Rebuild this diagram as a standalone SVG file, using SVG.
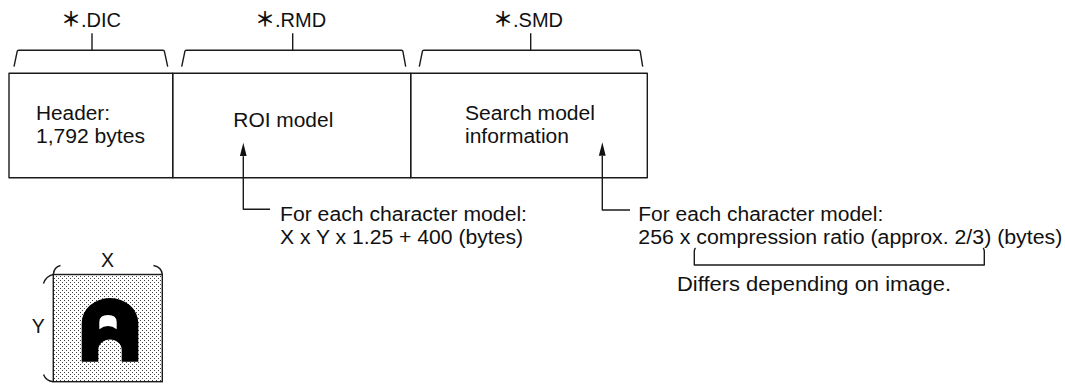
<svg xmlns="http://www.w3.org/2000/svg" width="1065" height="385" viewBox="0 0 1065 385">
  <style>
    .ln { fill: none; stroke: #1a1a1a; stroke-width: 1.4; stroke-linejoin: round; stroke-linecap: butt; }
    .tx { font-family: "Liberation Sans", Arial, "Noto Sans CJK JP", sans-serif; font-size: 19.5px; fill: #111; }
    .hd { font-family: "Liberation Sans", Arial, "Noto Sans CJK JP", sans-serif; font-size: 20px; fill: #111; }
    .ast { font-weight: bold; }
  </style>
  <defs>
    <marker id="arrow" markerUnits="userSpaceOnUse" markerWidth="14" markerHeight="8" refX="0" refY="4" orient="auto">
      <path d="M0,0.6 L13.5,4 L0,7.4 Z" fill="#111"/>
    </marker>
    <!-- stippled screen-tone fill for the character cell -->
    <pattern id="stipple" patternUnits="userSpaceOnUse" width="4" height="4">
      <rect width="4" height="4" fill="#fff"/>
      <rect x="0" y="0" width="1" height="1" fill="#444"/>
      <rect x="2" y="2" width="1" height="1" fill="#444"/>
    </pattern>
  </defs>

  <!-- file-name labels with their braces -->
  <g id="file-dic">
    <text class="hd" x="61" y="27"><tspan class="ast">＊</tspan>.DIC</text>
    <path class="ln" d="M92,33.3 V50.3 M14,66.7 L17.2,51.3 Q17.5,50.3 18.6,50.3 H163 Q164.1,50.3 164.4,51.3 L167.7,66.7"/>
  </g>
  <g id="file-rmd">
    <text class="hd" x="255" y="27"><tspan class="ast">＊</tspan>.RMD</text>
    <path class="ln" d="M292.7,33.3 V50.3 M181.7,66.7 L184.9,51.3 Q185.2,50.3 186.3,50.3 H401.5 Q402.6,50.3 402.9,51.3 L405.7,66.7"/>
  </g>
  <g id="file-smd">
    <text class="hd" x="493" y="27"><tspan class="ast">＊</tspan>.SMD</text>
    <path class="ln" d="M530.7,33.3 V50.3 M419.3,66.7 L422.4,51.3 Q422.7,50.3 423.8,50.3 H638.8 Q639.9,50.3 640.2,51.3 L642.7,66.7"/>
  </g>

  <!-- record layout: three consecutive sections -->
  <g id="cell-header">
    <rect class="ln" x="9" y="73.3" width="163.7" height="104.4"/>
    <text class="tx" x="36" y="119.5" textLength="74" lengthAdjust="spacingAndGlyphs">Header:</text>
    <text class="tx" x="36" y="143.3" textLength="109" lengthAdjust="spacingAndGlyphs">1,792 bytes</text>
  </g>
  <g id="cell-roi">
    <rect class="ln" x="172.7" y="73.3" width="238" height="104.4"/>
    <text class="tx" x="233.3" y="126.7" textLength="100" lengthAdjust="spacingAndGlyphs">ROI model</text>
  </g>
  <g id="cell-search">
    <rect class="ln" x="410.7" y="73.3" width="236.6" height="104.4"/>
    <text class="tx" x="465" y="120" textLength="130" lengthAdjust="spacingAndGlyphs">Search model</text>
    <text class="tx" x="465" y="143.3" textLength="104" lengthAdjust="spacingAndGlyphs">information</text>
  </g>

  <!-- size notes -->
  <g id="note-rmd">
    <text class="tx" x="280" y="221" textLength="247" lengthAdjust="spacingAndGlyphs">For each character model:</text>
    <text class="tx" x="280" y="243.5" textLength="243" lengthAdjust="spacingAndGlyphs">X x Y x 1.25 + 400 (bytes)</text>
  </g>
  <g id="note-smd">
    <text class="tx" x="638.3" y="221" textLength="245" lengthAdjust="spacingAndGlyphs">For each character model:</text>
    <text class="tx" x="638.3" y="243.5" textLength="424" lengthAdjust="spacingAndGlyphs">256 x compression ratio (approx. 2/3) (bytes)</text>
  </g>
  <g id="note-differs">
    <text class="tx" x="677" y="291" textLength="274" lengthAdjust="spacingAndGlyphs">Differs depending on image.</text>
  </g>

  <!-- leader lines and arrows -->
  <g id="connectors">
    <path class="ln" d="M270,209.3 H243.3 V156.2" marker-end="url(#arrow)"/>
    <path class="ln" d="M630,210 H602.3 V155.7" marker-end="url(#arrow)"/>
    <path class="ln" d="M695.5,248 Q694.3,249 694.3,251.5 V265 H984.3 V251.5 Q984.3,249 983.1,248"/>
  </g>

  <!-- character model cell: X by Y pixels -->
  <g id="char-model">
    <rect x="53.3" y="274.5" width="109" height="107.2" fill="url(#stipple)" stroke="#1a1a1a" stroke-width="1.4"/>
    <path d="M81.7,361.7 V323 A28.3,25 0 0 1 138.3,323 V361.7 H121.7 V350 A11.7,10.5 0 0 0 98.3,350 V361.7 Z" fill="#000"/>
    <path d="M99.3,329.3 V322 Q99.3,315 108,315 Q116.7,315 116.7,322 V329.3 Q108,322.5 99.3,329.3 Z" fill="#fff"/>
    <path class="ln" d="M53.3,274.5 Q54,267 60.5,265.5 M153.5,265.5 Q161.6,267 162.3,274.5"/>
    <path class="ln" d="M53.3,274.5 Q46,276 43.5,283.5 M43.5,374.5 Q46,381 53.3,381.7"/>
    <text class="tx" x="107.5" y="266.5" text-anchor="middle">X</text>
    <text class="tx" x="38.3" y="332.5" text-anchor="middle">Y</text>
  </g>
</svg>
